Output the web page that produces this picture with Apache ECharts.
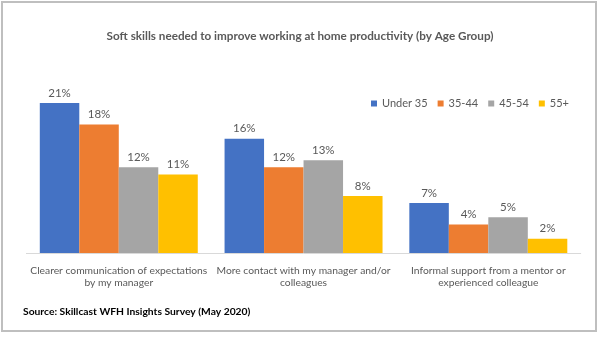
<!DOCTYPE html>
<html>
<head>
<meta charset="utf-8">
<script src="https://cdn.jsdelivr.net/npm/echarts@6/dist/echarts.min.js"></script>
<style>
html,body{margin:0;padding:0;background:#fff;}
#c{width:600px;height:337px;}
</style>
</head>
<body>
<div id="c"></div>
<script>
const categories = [
  "Clearer communication of expectations\nby my manager",
  "More contact with my manager and/or\ncolleagues",
  "Informal support from a mentor or\nexperienced colleague"
];
const seriesNames = ["Under 35", "35-44", "45-54", "55+"];
const under35 = [21, 16, 7];
const age35to44 = [18, 12, 4];
const age45to54 = [12, 13, 5];
const age55plus = [11, 8, 2];
const colors = ["#4472c4", "#ed7d31", "#a5a5a5", "#ffc000"];

const FONT = "Lato";
const chart = echarts.init(document.getElementById('c'));
const values = [under35, age35to44, age45to54, age55plus];
chart.setOption({
  animation: false,
  backgroundColor: '#ffffff',
  color: colors,
  title: {
    text: "Soft skills needed to improve working at home productivity (by Age Group)",
    left: 'center',
    top: 25,
    textStyle: {fontFamily: FONT, fontSize: 11.7, fontWeight: 'bold', color: '#595959'}
  },
  legend: {
    left: 366,
    top: 93,
    icon: 'rect',
    itemWidth: 6,
    itemHeight: 6,
    itemGap: 10,
    textStyle: {fontFamily: FONT, fontSize: 11, color: '#595959'},
    data: seriesNames
  },
  grid: {left: 26.4, right: 19.3, top: 74.5, bottom: 84},
  xAxis: {
    type: 'category',
    data: categories,
    axisLine: {lineStyle: {color: '#d9d9d9', width: 1}},
    axisTick: {show: false},
    axisLabel: {fontFamily: FONT, fontSize: 10.3, color: '#595959', margin: 11, lineHeight: 12.5, interval: 0}
  },
  yAxis: {
    type: 'value',
    min: 0,
    max: 25,
    show: false,
    splitLine: {show: false}
  },
  series: seriesNames.map((n, i) => ({
    name: n,
    type: 'bar',
    data: values[i],
    barGap: '0%',
    barCategoryGap: '14.5%',
    label: {
      show: true,
      position: 'top',
      distance: 4,
      formatter: '{c}%',
      fontFamily: FONT,
      fontSize: 11.5,
      color: '#595959'
    }
  })),
  graphic: [
    {
      type: 'rect',
      shape: {x: 2, y: 2, width: 594, height: 329},
      style: {fill: 'none', stroke: '#bfbfbf', lineWidth: 2},
      silent: true
    },
    {
      type: 'text',
      left: 23,
      top: 307,
      style: {
        text: "Source: Skillcast WFH Insights Survey (May 2020)",
        fontFamily: FONT,
        fontSize: 10.3,
        fontWeight: 'bold',
        fill: '#000000'
      }
    }
  ]
});
</script>
</body>
</html>
